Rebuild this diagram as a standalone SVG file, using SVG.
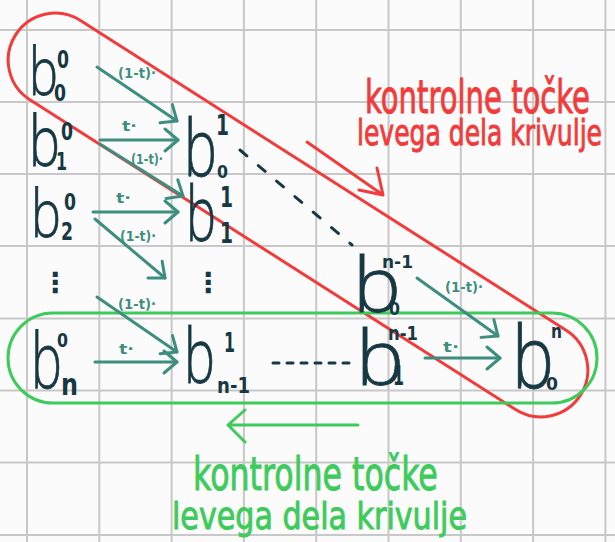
<svg xmlns="http://www.w3.org/2000/svg" width="615" height="542" viewBox="0 0 615 542">
<style>
.grid line{stroke:#c8c8c8;stroke-width:2}
.b{font-family:"Open Sans","DejaVu Sans",sans-serif;font-weight:300;fill:#163843;stroke:#163843;stroke-width:0.8}
.s{font-family:"DejaVu Sans",sans-serif;fill:#163843;font-weight:bold}
.lab{font-family:"DejaVu Sans",sans-serif;fill:#3e8e80;font-weight:bold;font-size:14px}
.arr{stroke:#3e8e80;stroke-width:3;fill:none;stroke-linecap:round;marker-end:url(#ah)}
.dash{stroke:#163843;stroke-width:3;fill:none;stroke-linecap:round}
.red{stroke:#f23b3b;stroke-width:3;fill:none;stroke-linecap:round;stroke-linejoin:round}
.grn{stroke:#3fcb5c;stroke-width:3;fill:none;stroke-linecap:round;stroke-linejoin:round}
.rt{font-family:"DejaVu Sans",sans-serif;fill:#f23b3b;stroke:#f23b3b;stroke-width:1}
.gt{font-family:"DejaVu Sans",sans-serif;fill:#3fcb5c;stroke:#3fcb5c;stroke-width:1}
</style>
<defs>
<marker id="ah" viewBox="-16 -14 20 28" markerWidth="20" markerHeight="28" refX="0" refY="0" orient="auto" markerUnits="userSpaceOnUse">
<path d="M-13,-11 L0,0 L-13,11" fill="none" stroke="#3e8e80" stroke-width="3" stroke-linecap="round" stroke-linejoin="round"/>
</marker>
</defs>
<rect width="615" height="542" fill="#fbfbfb"/>
<g class="grid">
<line x1="27" y1="0" x2="27" y2="542"/><line x1="99.3" y1="0" x2="99.3" y2="542"/><line x1="171.6" y1="0" x2="171.6" y2="542"/><line x1="243.9" y1="0" x2="243.9" y2="542"/><line x1="316.2" y1="0" x2="316.2" y2="542"/><line x1="388.5" y1="0" x2="388.5" y2="542"/><line x1="460.8" y1="0" x2="460.8" y2="542"/><line x1="533.1" y1="0" x2="533.1" y2="542"/><line x1="605.4" y1="0" x2="605.4" y2="542"/>
<line x1="0" y1="30" x2="615" y2="30"/><line x1="0" y1="102" x2="615" y2="102"/><line x1="0" y1="174" x2="615" y2="174"/><line x1="0" y1="246" x2="615" y2="246"/><line x1="0" y1="318.5" x2="615" y2="318.5"/><line x1="0" y1="390.5" x2="615" y2="390.5"/><line x1="0" y1="462.5" x2="615" y2="462.5"/><line x1="0" y1="535" x2="615" y2="535"/>
</g>
<g id="group-left-red">
<rect class="red" x="-335" y="-47" width="670" height="94" rx="47" transform="translate(298 215) rotate(32.53)"/>
<path class="red" d="M307,142 L383,195 M377,168 L383,195 L359,190"/>
<text class="rt" font-size="46" transform="translate(365 113) scale(0.625 1)" textLength="360" lengthAdjust="spacingAndGlyphs">kontrolne točke</text>
<text class="rt" font-size="36" transform="translate(357 145) scale(0.696 1)" textLength="352" lengthAdjust="spacingAndGlyphs">levega dela krivulje</text>
</g>
<g id="group-right-green">
<rect class="grn" x="8" y="313" width="589" height="90" rx="45"/>
<path class="grn" d="M358,425 L228,425 M245,410 L228,425 L245,442"/>
<text class="gt" font-size="46" transform="translate(193 490) scale(0.68 1)" textLength="360" lengthAdjust="spacingAndGlyphs">kontrolne točke</text>
<text class="gt" font-size="38" transform="translate(172 529) scale(0.793 1)" textLength="372" lengthAdjust="spacingAndGlyphs">levega dela krivulje</text>
</g>
<g id="connectors">
<line class="arr" x1="97" y1="67" x2="177" y2="121"/>
<line class="arr" x1="100" y1="140" x2="178" y2="140"/>
<line class="arr" x1="100" y1="144" x2="183" y2="196"/>
<line class="arr" x1="93" y1="212" x2="178" y2="212"/>
<line class="arr" x1="95" y1="219" x2="165" y2="278"/>
<line class="arr" x1="97" y1="297" x2="177" y2="352"/>
<line class="arr" x1="95" y1="362" x2="177" y2="362"/>
<line class="arr" x1="417" y1="278" x2="498" y2="336"/>
<line class="arr" x1="425" y1="358" x2="500" y2="358"/>
<text class="lab" x="118" y="78" textLength="38" lengthAdjust="spacingAndGlyphs">(1-t)·</text>
<text class="lab" x="122" y="131" textLength="15" lengthAdjust="spacingAndGlyphs">t·</text>
<text class="lab" x="131" y="164" textLength="32" lengthAdjust="spacingAndGlyphs">(1-t)·</text>
<text class="lab" x="116" y="203" textLength="15" lengthAdjust="spacingAndGlyphs">t·</text>
<text class="lab" x="120" y="241" textLength="36" lengthAdjust="spacingAndGlyphs">(1-t)·</text>
<text class="lab" x="118" y="309" textLength="38" lengthAdjust="spacingAndGlyphs">(1-t)·</text>
<text class="lab" x="119" y="354" textLength="15" lengthAdjust="spacingAndGlyphs">t·</text>
<text class="lab" x="445" y="292" textLength="38" lengthAdjust="spacingAndGlyphs">(1-t)·</text>
<text class="lab" x="443" y="352" textLength="16" lengthAdjust="spacingAndGlyphs">t·</text>
<line class="dash" x1="240" y1="150" x2="352" y2="245" stroke-dasharray="9 15"/>
<line class="dash" x1="273" y1="363" x2="352" y2="363" stroke-dasharray="6 8"/>
</g>
<g id="b00"><text class="b" font-size="66" transform="translate(29 95) scale(0.718 1)" textLength="40.4" lengthAdjust="spacingAndGlyphs">b</text><text class="s" x="57" y="68" font-size="24" textLength="12" lengthAdjust="spacingAndGlyphs">0</text><text class="s" x="54" y="101" font-size="23" textLength="12" lengthAdjust="spacingAndGlyphs">0</text></g>
<g id="b10"><text class="b" font-size="70" transform="translate(29 166) scale(0.722 1)" textLength="42.9" lengthAdjust="spacingAndGlyphs">b</text><text class="s" x="61" y="140" font-size="24" textLength="12" lengthAdjust="spacingAndGlyphs">0</text><text class="s" x="56" y="170" font-size="24" textLength="11" lengthAdjust="spacingAndGlyphs">1</text></g>
<g id="b20"><text class="b" font-size="66" transform="translate(31 237) scale(0.742 1)" textLength="40.4" lengthAdjust="spacingAndGlyphs">b</text><text class="s" x="64" y="210" font-size="23" textLength="12" lengthAdjust="spacingAndGlyphs">0</text><text class="s" x="61" y="240" font-size="24" textLength="12" lengthAdjust="spacingAndGlyphs">2</text></g>
<g id="dots1"><text class="s" x="55" y="292" font-size="28" text-anchor="middle">⋮</text></g>
<g id="bn0"><text class="b" font-size="78" transform="translate(31 388) scale(0.648 1)" textLength="47.8" lengthAdjust="spacingAndGlyphs">b</text><text class="s" x="57" y="347" font-size="20" textLength="11" lengthAdjust="spacingAndGlyphs">0</text><text class="s" x="61" y="395" font-size="30" textLength="17" lengthAdjust="spacingAndGlyphs">n</text></g>
<g id="b01"><text class="b" font-size="80" transform="translate(184 176) scale(0.673 1)" textLength="49" lengthAdjust="spacingAndGlyphs">b</text><text class="s" x="216" y="135" font-size="28" textLength="13" lengthAdjust="spacingAndGlyphs">1</text><text class="s" x="217" y="178" font-size="18" textLength="11" lengthAdjust="spacingAndGlyphs">0</text></g>
<g id="b11"><text class="b" font-size="76" transform="translate(186 241) scale(0.644 1)" textLength="46.6" lengthAdjust="spacingAndGlyphs">b</text><text class="s" x="220" y="207" font-size="28" textLength="13" lengthAdjust="spacingAndGlyphs">1</text><text class="s" x="220" y="243" font-size="28" textLength="13" lengthAdjust="spacingAndGlyphs">1</text></g>
<g id="dots2"><text class="s" x="208" y="292" font-size="28" text-anchor="middle">⋮</text></g>
<g id="bn11"><text class="b" font-size="76" transform="translate(184 383) scale(0.665 1)" textLength="46.6" lengthAdjust="spacingAndGlyphs">b</text><text class="s" x="224" y="352" font-size="26" textLength="11" lengthAdjust="spacingAndGlyphs">1</text><text class="s" x="217" y="393" font-size="21" textLength="33" lengthAdjust="spacingAndGlyphs">n-1</text></g>
<g id="b0n1"><text class="b" font-size="76" transform="translate(353 312) scale(1.03 1)" textLength="46.6" lengthAdjust="spacingAndGlyphs">b</text><text class="s" x="382" y="268" font-size="18" textLength="31" lengthAdjust="spacingAndGlyphs">n-1</text><text class="s" x="389" y="315" font-size="18" textLength="11" lengthAdjust="spacingAndGlyphs">0</text></g>
<g id="b1n1"><text class="b" font-size="76" transform="translate(356 385) scale(1.03 1)" textLength="46.6" lengthAdjust="spacingAndGlyphs">b</text><text class="s" x="388" y="340" font-size="20" textLength="30" lengthAdjust="spacingAndGlyphs">n-1</text><text class="s" x="393" y="385" font-size="26" textLength="11" lengthAdjust="spacingAndGlyphs">1</text></g>
<g id="b0n"><text class="b" font-size="86" transform="translate(512 388) scale(0.797 1)" textLength="52.7" lengthAdjust="spacingAndGlyphs">b</text><text class="s" x="551" y="338" font-size="20" textLength="11" lengthAdjust="spacingAndGlyphs">n</text><text class="s" x="546" y="390" font-size="18" textLength="12" lengthAdjust="spacingAndGlyphs">0</text></g>
</svg>
